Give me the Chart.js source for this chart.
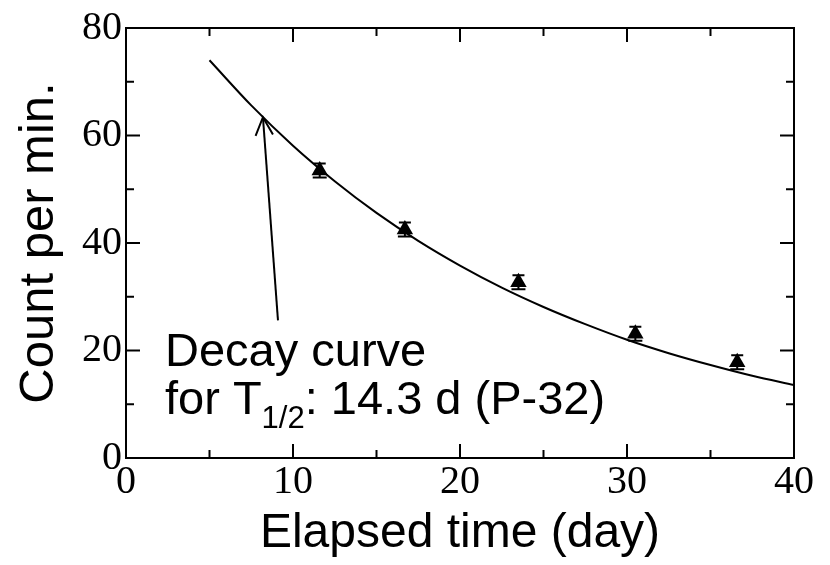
<!DOCTYPE html>
<html><head><meta charset="utf-8">
<script src="https://cdn.jsdelivr.net/npm/chart.js@4.4.1/dist/chart.umd.min.js"></script>
<style>html,body{margin:0;padding:0;background:#fff}#wrap{width:830px;height:565px}</style>
</head><body><div id="wrap"><canvas id="c" width="830" height="565"></canvas></div>
<script>
// ---- data ----
const elapsedDays = [11.6, 16.7, 23.5, 30.5, 36.6];
const countPerMin = [53.5, 42.5, 32.7, 23.1, 17.8];
const countError  = [1.3, 1.3, 1.3, 1.3, 1.3];
const curveDays   = [5, 7.5, 10, 12.5, 15, 17.5, 20, 22.5, 25, 27.5, 30, 32.5, 35, 37.5, 40];
const curveCounts = [74.0, 65.6, 58.1, 51.5, 45.6, 40.4, 35.8, 31.7, 28.1, 24.9, 22.0, 19.5, 17.3, 15.3, 13.6];
const xMajorTicks = [0, 10, 20, 30, 40];
const xMinorTicks = [5, 15, 25, 35];
const yMajorTicks = [0, 20, 40, 60, 80];
const yMinorTicks = [10, 30, 50, 70];
const arrowTip  = [8.2, 63.4];
const arrowTail = [9.1, 25.6];

const curveData = curveDays.map((d, i) => ({x: d, y: curveCounts[i]}));
const pointData = elapsedDays.map((d, i) => ({x: d, y: countPerMin[i]}));

const SANS = "'Liberation Sans', Arial, sans-serif";
const SERIF = "'Liberation Serif', 'Times New Roman', serif";

const decorPlugin = {
  id: 'decor',
  afterDatasetsDraw(chart) {
    const {ctx, chartArea: a, scales: {x, y}} = chart;
    ctx.save();
    ctx.strokeStyle = '#000';
    ctx.fillStyle = '#000';
    // error bars
    ctx.lineWidth = 2;
    const meta = chart.getDatasetMeta(1);
    meta.data.forEach((el, i) => {
      const px = el.x;
      const yt = y.getPixelForValue(countPerMin[i] + countError[i]);
      const yb = y.getPixelForValue(countPerMin[i] - countError[i]);
      ctx.beginPath();
      ctx.moveTo(px, yt); ctx.lineTo(px, yb);
      ctx.moveTo(px - 6, yt); ctx.lineTo(px + 6, yt);
      ctx.moveTo(px - 7, yb); ctx.lineTo(px + 7, yb);
      ctx.stroke();
    });
    // frame
    ctx.lineWidth = 2;
    ctx.strokeRect(a.left, a.top, a.right - a.left, a.bottom - a.top);
    const seg = (x1, y1, x2, y2) => { ctx.beginPath(); ctx.moveTo(x1, y1); ctx.lineTo(x2, y2); ctx.stroke(); };
    const tickX = (vals, L) => vals.forEach(v => {
      const p = x.getPixelForValue(v);
      seg(p, a.bottom, p, a.bottom - L); seg(p, a.top, p, a.top + L);
    });
    const tickY = (vals, L) => vals.forEach(v => {
      const p = y.getPixelForValue(v);
      seg(a.left, p, a.left + L, p); seg(a.right, p, a.right - L, p);
    });
    tickX(xMajorTicks, 14); tickX(xMinorTicks, 8);
    tickY(yMajorTicks, 14); tickY(yMinorTicks, 8);
    // arrow
    const tx = x.getPixelForValue(arrowTip[0]), ty = y.getPixelForValue(arrowTip[1]);
    const sx = x.getPixelForValue(arrowTail[0]), sy = y.getPixelForValue(arrowTail[1]);
    ctx.lineWidth = 2;
    seg(sx, sy, tx, ty);
    const ang = Math.atan2(sy - ty, sx - tx);
    const hl = 20, ha = 0.45;
    ctx.beginPath();
    ctx.moveTo(tx + hl * Math.cos(ang - ha), ty + hl * Math.sin(ang - ha));
    ctx.lineTo(tx, ty);
    ctx.lineTo(tx + hl * Math.cos(ang + ha), ty + hl * Math.sin(ang + ha));
    ctx.stroke();
    // annotation text
    ctx.textAlign = 'left';
    ctx.textBaseline = 'alphabetic';
    ctx.font = '47px ' + SANS;
    ctx.fillText('Decay curve', 165, 366);
    let cx = 165;
    const l1 = 'for T';
    ctx.fillText(l1, cx, 414); cx += ctx.measureText(l1).width;
    ctx.font = '31px ' + SANS;
    ctx.fillText('1/2', cx, 428); cx += ctx.measureText('1/2').width;
    ctx.font = '47px ' + SANS;
    ctx.fillText(': 14.3 d (P-32)', cx, 414);
    ctx.restore();
  }
};

new Chart(document.getElementById('c'), {
  type: 'scatter',
  data: {
    datasets: [
      {
        type: 'line', data: curveData, borderColor: '#000', borderWidth: 2,
        pointRadius: 0, fill: false, cubicInterpolationMode: 'monotone'
      },
      {
        type: 'scatter', data: pointData, pointStyle: 'triangle', pointRadius: 9.5,
        backgroundColor: '#000', borderColor: '#000', borderWidth: 0
      }
    ]
  },
  options: {
    responsive: false, animation: false, devicePixelRatio: 1,
    layout: {padding: {left: 0, right: 36, top: 24, bottom: 0}},
    plugins: {legend: {display: false}, tooltip: {enabled: false}},
    scales: {
      x: {
        type: 'linear', min: 0, max: 40,
        afterFit: s => { s.height = 107; },
        afterBuildTicks: s => { s.ticks = xMajorTicks.map(v => ({value: v})); },
        grid: {display: false, drawTicks: false}, border: {display: false},
        ticks: {font: {family: SERIF, size: 40}, color: '#000', padding: 0, maxRotation: 0},
        title: {display: true, text: 'Elapsed time (day)', color: '#000',
                font: {family: SANS, size: 48}, padding: {top: 0, bottom: 2}}
      },
      y: {
        type: 'linear', min: 0, max: 80,
        afterFit: s => { s.width = 126; },
        afterBuildTicks: s => { s.ticks = yMajorTicks.map(v => ({value: v})); },
        grid: {display: false, drawTicks: false}, border: {display: false},
        ticks: {font: {family: SERIF, size: 40}, color: '#000', padding: 4},
        title: {display: true, text: 'Count per min.', color: '#000',
                font: {family: SANS, size: 49}, padding: {top: 10, bottom: 0}}
      }
    }
  },
  plugins: [decorPlugin]
});
</script></body></html>
